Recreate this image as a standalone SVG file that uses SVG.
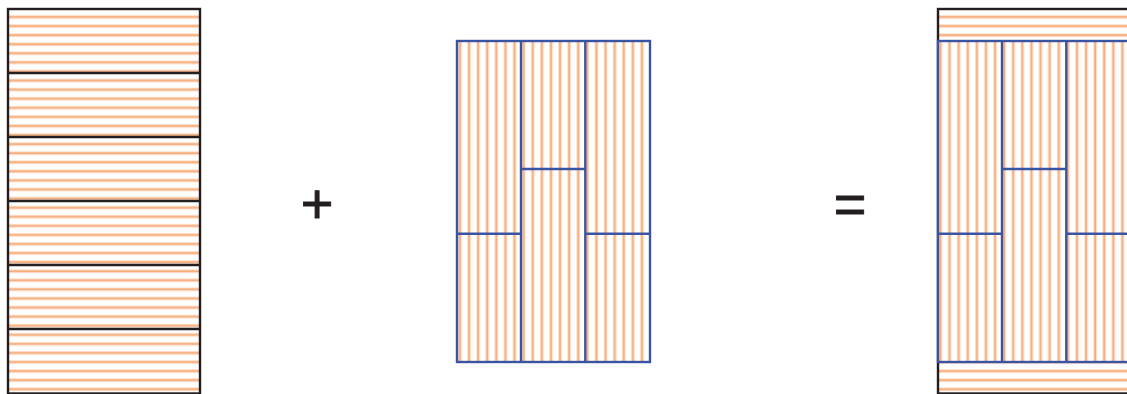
<svg xmlns="http://www.w3.org/2000/svg" width="1127" height="394" viewBox="0 0 1127 394">
<style>
.blk{fill:none;stroke:#231f20;stroke-width:2.4}
.blu{fill:none;stroke:#3a54a4;stroke-width:2.4}
.sym{font-family:"Liberation Sans",Arial,sans-serif;font-size:56px;fill:#231f20;stroke:#231f20;stroke-width:0.9;text-anchor:middle}
</style>
<defs>
<pattern id="hs" patternUnits="userSpaceOnUse" x="0" y="15" width="20" height="9.08">
<rect x="0" y="0" width="20" height="4" fill="#fde2cf"/>
<rect x="0" y="1.1" width="20" height="1.8" fill="#f6ae7e"/>
</pattern>
<pattern id="vs1" patternUnits="userSpaceOnUse" x="458" y="0" width="9.1" height="20">
<rect x="0" y="0" width="4" height="20" fill="#fde2cf"/>
<rect x="1.1" y="0" width="1.8" height="20" fill="#f6ae7e"/>
</pattern>
<pattern id="vs2" patternUnits="userSpaceOnUse" x="938.5" y="0" width="9.1" height="20">
<rect x="0" y="0" width="4" height="20" fill="#fde2cf"/>
<rect x="1.1" y="0" width="1.8" height="20" fill="#f6ae7e"/>
</pattern>
</defs>
<rect width="1127" height="394" fill="#ffffff"/>
<g id="left-stack">
<rect x="8" y="9" width="192" height="384.5" fill="url(#hs)"/>
<rect class="blk" x="8" y="9" width="192" height="384.5"/>
<path class="blk" d="M8 73H200M8 137H200M8 201H200M8 265H200M8 329H200"/>
</g>
<g id="plus"><text class="sym" x="317" y="223">+</text></g>
<g id="middle-grid">
<rect x="457" y="41" width="193" height="321" fill="url(#vs1)"/>
<rect class="blu" x="457" y="41" width="193" height="321"/>
<path class="blu" d="M521 41V362M585.3 41V362M457 233.7H521M521 169H585.3M585.3 233.7H650"/>
</g>
<g id="equals"><text class="sym" x="850" y="223">=</text></g>
<g id="result">
<rect x="938" y="9" width="200" height="384.5" fill="url(#hs)"/>
<rect class="blk" x="938" y="9" width="200" height="384.5"/>
<rect x="938" y="41" width="200" height="321" fill="#ffffff"/>
<rect x="938" y="41" width="200" height="321" fill="url(#vs2)"/>
<rect class="blu" x="938" y="41" width="200" height="321"/>
<path class="blu" d="M1002 41V362M1066.3 41V362M938 233.7H1002M1002 169H1066.3M1066.3 233.7H1138"/>
</g>
<g id="connectors"/>
</svg>
